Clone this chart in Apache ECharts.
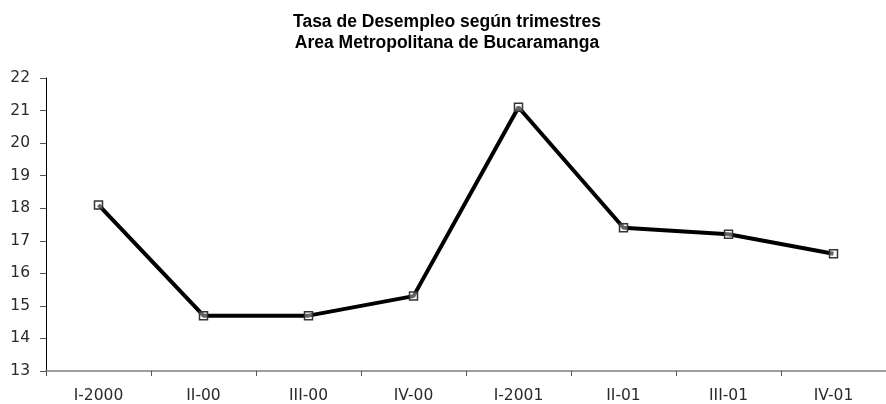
<!DOCTYPE html>
<html>
<head>
<meta charset="utf-8">
<script src="https://cdn.jsdelivr.net/npm/echarts@6/dist/echarts.min.js"></script>
<style>
  html, body { margin: 0; padding: 0; background: #fff; }
  #chart { width: 886px; height: 404px; }
</style>
</head>
<body>
<div id="chart"></div>
<script>
const categories = ["I-2000", "II-00", "III-00", "IV-00", "I-2001", "II-01", "III-01", "IV-01"];
const tasa = [18.1, 14.7, 14.7, 15.3, 21.1, 17.4, 17.2, 16.6];
const titleLines = ["Tasa de Desempleo según trimestres", "Area Metropolitana de Bucaramanga"];

const chart = echarts.init(document.getElementById("chart"));

const option = {
  animation: false,
  title: {
    text: titleLines.join("\n"),
    left: 442,
    top: 7,
    textAlign: "center",
    textStyle: {
      fontFamily: "Liberation Sans, Arial",
      fontSize: 17.5,
      fontWeight: "bold",
      color: "#000",
      lineHeight: 21,
    },
  },
  grid: {
    left: 46,
    right: -11,
    top: 78,
    bottom: 33,
  },
  xAxis: {
    type: "category",
    data: categories,
    boundaryGap: true,
    axisLine: { lineStyle: { color: "#808080", width: 1.5 } },
    axisTick: { show: true, inside: false, length: 5, lineStyle: { color: "#555" } },
    axisLabel: {
      margin: 17,
      fontFamily: "DejaVu Sans, sans-serif",
      fontSize: 15.5,
      color: "#2a2a2a",
    },
  },
  yAxis: {
    type: "value",
    min: 13,
    max: 22,
    interval: 1,
    axisLine: { show: true, lineStyle: { color: "#000", width: 1 } },
    axisTick: { show: true, length: 6, lineStyle: { color: "#555" } },
    splitLine: { show: false },
    axisLabel: {
      margin: 16,
      fontFamily: "DejaVu Sans, sans-serif",
      fontSize: 15.5,
      color: "#2a2a2a",
    },
  },
  series: [
    {
      name: "Tasa",
      type: "line",
      data: tasa,
      symbol: "rect",
      symbolSize: 8,
      lineStyle: { color: "#000", width: 4 },
      itemStyle: { color: "rgba(255,255,255,0.4)", borderColor: "#333", borderWidth: 1.5 },
    },
  ],
};

chart.setOption(option);
</script>
</body>
</html>
